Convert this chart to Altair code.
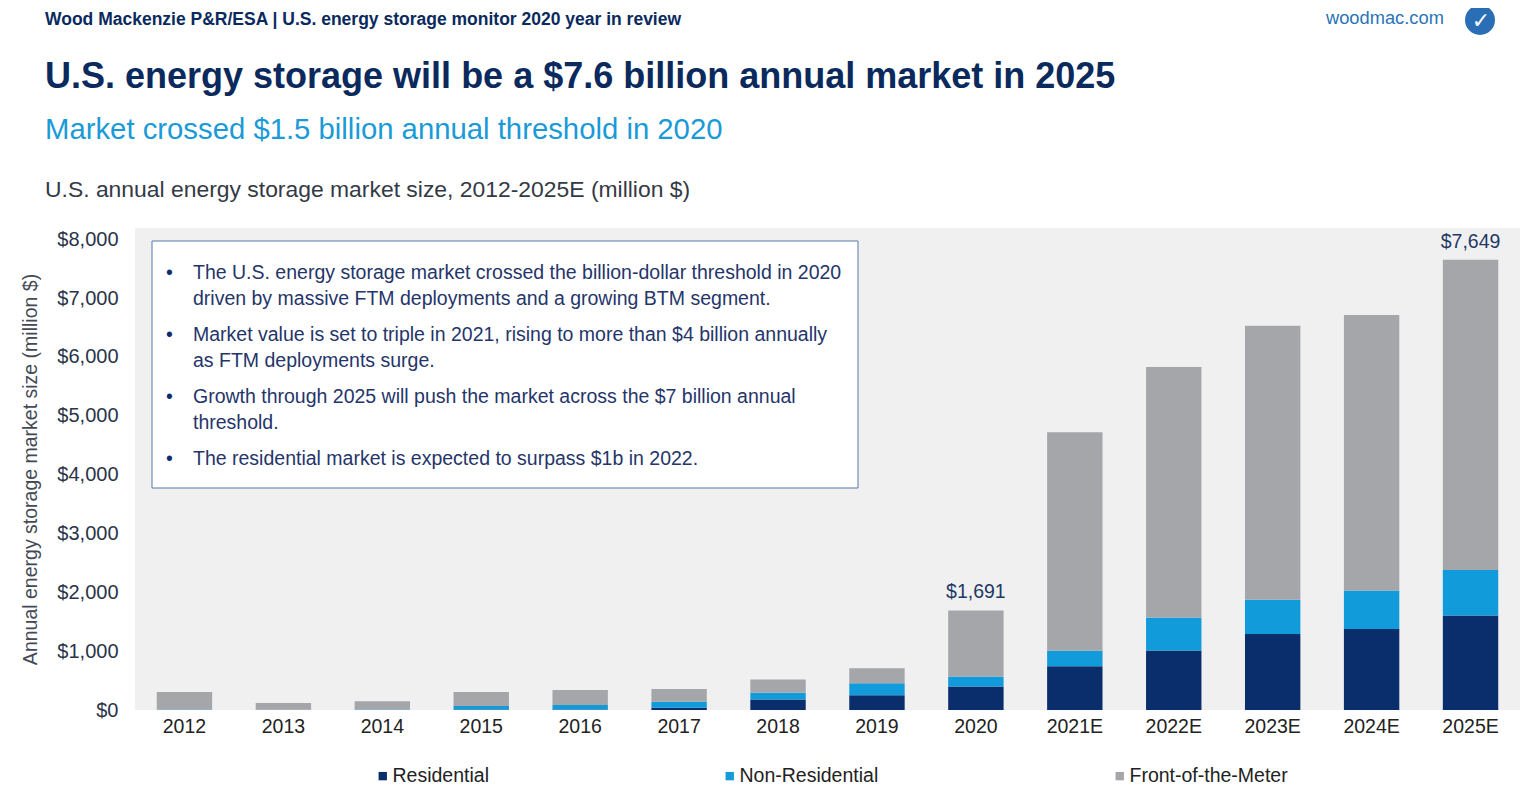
import altair as alt
import pandas as pd

years = ["2012", "2013", "2014", "2015", "2016", "2017", "2018", "2019", "2020",
         "2021E", "2022E", "2023E", "2024E", "2025E"]
residential = [2, 1, 2, 10, 10, 40, 180, 250, 400, 745, 1010, 1290, 1375, 1605]
non_residential = [5, 5, 8, 60, 75, 100, 114, 203, 170, 260, 560, 585, 655, 775]
front_of_meter = [300, 115, 140, 235, 255, 215, 226, 255, 1121, 3715, 4260, 4655, 4680, 5269]
segments = ["Residential", "Non-Residential", "Front-of-the-Meter"]
seg_colors = ["#0a2d6b", "#119bdb", "#a5a6a9"]
labeled_years = ["2020", "2025E"]

bullets = [
    ["The U.S. energy storage market crossed the billion-dollar threshold in 2020",
     "driven by massive FTM deployments and a growing BTM segment."],
    ["Market value is set to triple in 2021, rising to more than $4 billion annually",
     "as FTM deployments surge."],
    ["Growth through 2025 will push the market across the $7 billion annual",
     "threshold."],
    ["The residential market is expected to surpass $1b in 2022."],
]

rows = []
for i, y in enumerate(years):
    for k, (seg, vals) in enumerate(zip(segments, [residential, non_residential, front_of_meter])):
        rows.append({"year": y, "segment": seg, "value": vals[i], "order": k})
df = pd.DataFrame(rows)

totals = pd.DataFrame({
    "year": years,
    "total": [r + n + f for r, n, f in zip(residential, non_residential, front_of_meter)],
})

FONT = "Liberation Sans"
W, H = 1385, 482
FS = 19.5

xenc = alt.X("year:N", sort=years, title=None,
             scale=alt.Scale(paddingInner=0.44, paddingOuter=0.22),
             axis=alt.Axis(labelAngle=0, labelFontSize=FS, labelColor="#222222",
                           labelFont=FONT, ticks=False, domain=False, labelPadding=7))

bars = alt.Chart(df).mark_bar().encode(
    x=xenc,
    y=alt.Y("value:Q", stack="zero",
            scale=alt.Scale(domain=[0, 8190], nice=False),
            axis=alt.Axis(values=[0, 1000, 2000, 3000, 4000, 5000, 6000, 7000, 8000],
                          format="$,.0f", grid=False, ticks=False, domain=False,
                          labelFontSize=20, labelColor="#2a3448", labelFont=FONT,
                          labelPadding=17,
                          title="Annual energy storage market size (million $)",
                          titleFontSize=19.5, titleFont=FONT, titleFontWeight="normal",
                          titleColor="#444a55", titlePadding=16)),
    color=alt.Color("segment:N", sort=segments,
                    scale=alt.Scale(domain=segments, range=seg_colors),
                    legend=alt.Legend(orient="none", legendX=238, legendY=538,
                                      direction="horizontal", title=None,
                                      symbolType="square", symbolSize=70,
                                      symbolStrokeWidth=0, labelFontSize=FS,
                                      labelFont=FONT, labelColor="#222222",
                                      columnPadding=231, labelOffset=0)),
    order=alt.Order("order:Q"),
)

total_labels = alt.Chart(totals).transform_filter(
    alt.FieldOneOfPredicate(field="year", oneOf=labeled_years)
).mark_text(baseline="bottom", dy=-8, fontSize=FS, font=FONT, color="#1f3864").encode(
    x=alt.X("year:N", sort=years),
    y=alt.Y("total:Q"),
    text=alt.Text("total:Q", format="$,.0f"),
)

box = alt.Chart(pd.DataFrame({"a": [0]})).mark_rect(
    fill="white", stroke="#5a76a8", strokeWidth=1
).encode(x=alt.value(17), x2=alt.value(723), y=alt.value(13), y2=alt.value(260))

layers = [bars, total_labels, box]

one = pd.DataFrame({"a": [0]})
line_y = 45
for b in bullets:
    layers.append(alt.Chart(one).mark_text(
        text="\u2022", fontSize=FS, font=FONT, color="#0a2d6b", align="left", baseline="middle"
    ).encode(x=alt.value(31), y=alt.value(line_y)))
    for j, ln in enumerate(b):
        layers.append(alt.Chart(one).mark_text(
            text=ln, fontSize=FS, font=FONT, color="#25356a", align="left", baseline="middle"
        ).encode(x=alt.value(58), y=alt.value(line_y + 26 * j)))
    line_y += 26 * len(b) + 10

# Header texts
headers = [
    ("Wood Mackenzie P&R/ESA | U.S. energy storage monitor 2020 year in review",
     -90, -208, 17.5, "bold", "#0a2a5e"),
    ("U.S. energy storage will be a $7.6 billion annual market in 2025",
     -90, -151, 36, "bold", "#0a2a5e"),
    ("Market crossed $1.5 billion annual threshold in 2020",
     -90, -98, 29.3, "normal", "#1a9ad6"),
    ("U.S. annual energy storage market size, 2012-2025E (million $)",
     -90, -38, 22.9, "normal", "#333a45"),
    ("woodmac.com", 1191, -209, 18.3, "normal", "#2a74b8"),
]
for t, x, y, fs, fw, c in headers:
    layers.append(alt.Chart(one).mark_text(
        text=t, fontSize=fs, fontWeight=fw, font=FONT, color=c, align="left", baseline="middle"
    ).encode(x=alt.value(x), y=alt.value(y)))

# logo
layers.append(alt.Chart(one).mark_point(
    filled=True, shape="circle", size=900, color="#2a6fb5", opacity=1
).encode(x=alt.value(1345), y=alt.value(-208)))
layers.append(alt.Chart(one).mark_text(
    text="\u2713", fontSize=22, font="DejaVu Sans", color="white", fontWeight="bold",
    align="center", baseline="middle"
).encode(x=alt.value(1346), y=alt.value(-207)))

chart = alt.layer(*layers).properties(
    width=W, height=H,
    background="white",
    autosize=alt.AutoSizeParams(type="none"),
    padding={"left": 127, "top": 220, "right": 8, "bottom": 80},
).configure_view(fill="#f0f0f0", stroke=None)

chart.save("out.html", embed_options={"renderer": "svg", "actions": False})
